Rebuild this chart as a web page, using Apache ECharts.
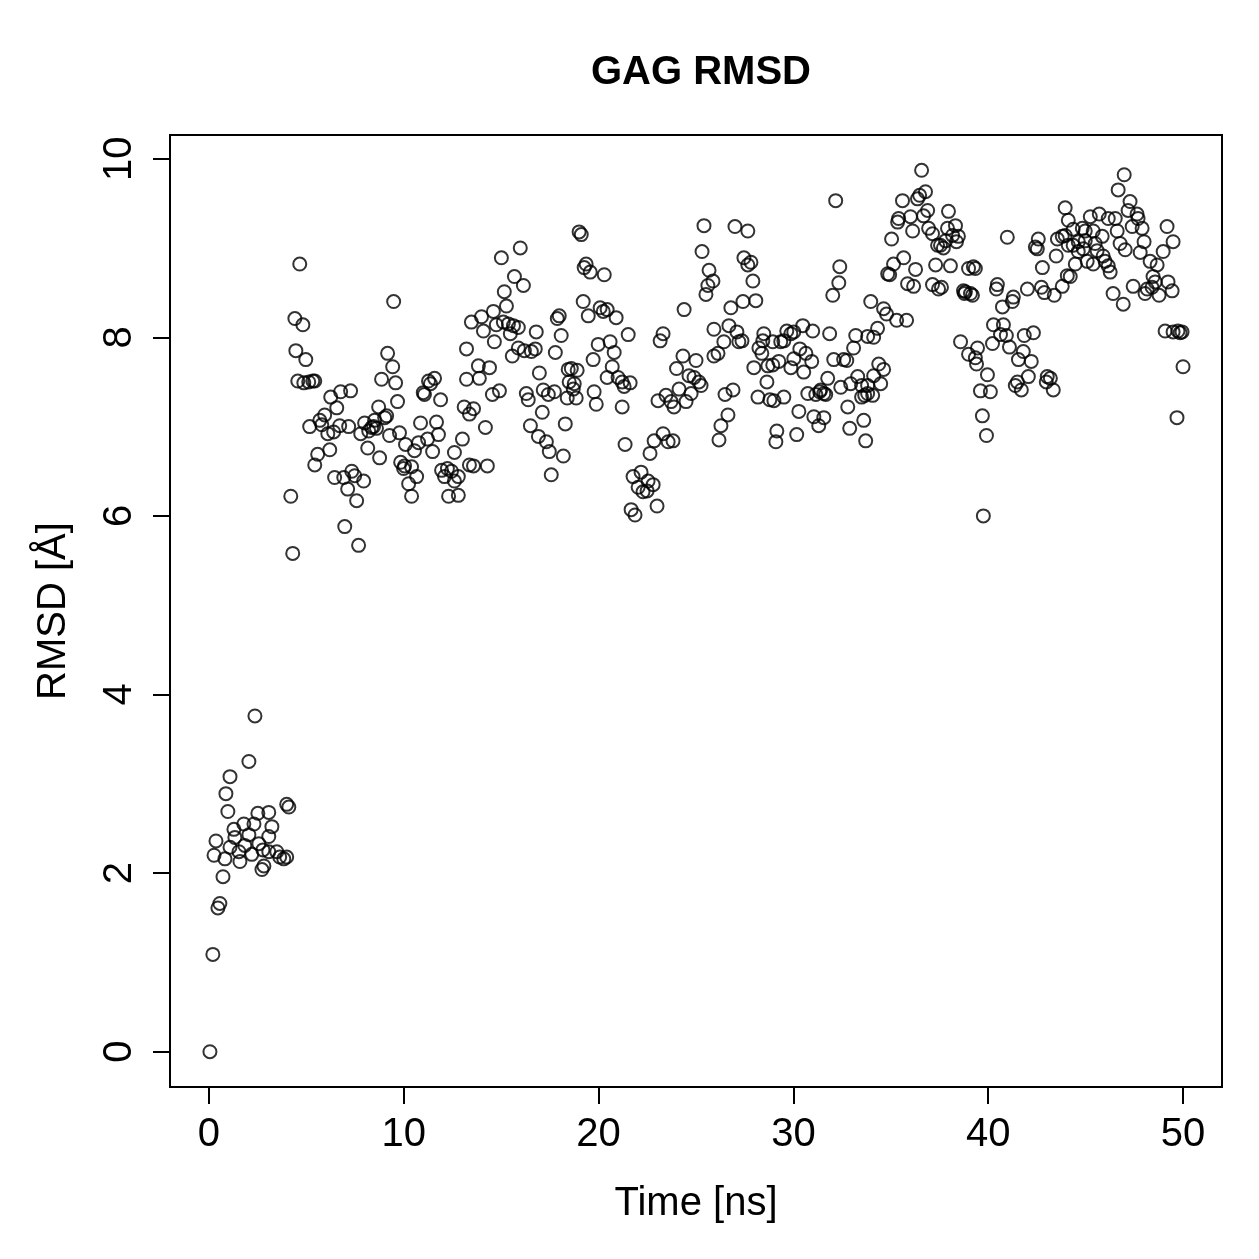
<!DOCTYPE html>
<html>
<head>
<meta charset="utf-8">
<title>GAG RMSD</title>
<script src="https://cdn.jsdelivr.net/npm/echarts@6/dist/echarts.min.js"></script>
<style>
  html, body { margin: 0; padding: 0; background: #fff; }
  #chart { width: 1259px; height: 1259px; }
</style>
</head>
<body>
<div id="chart"></div>
<script>
  // time [ns] and RMSD [Å]
  const timeNs = [
    0.05, 0.2, 0.26, 0.36, 0.46, 0.56, 0.72, 0.82, 0.87, 0.97,
    1.08, 1.08, 1.28, 1.33, 1.54, 1.59, 1.79, 1.84, 2.05, 2.05,
    2.2, 2.31, 2.36, 2.51, 2.56, 2.77, 2.72, 2.82, 3.07, 3.07,
    3.07, 3.23, 3.48, 3.63, 3.84, 3.99, 3.99, 4.1,
    4.2, 4.3, 4.41, 4.46, 4.56, 4.66, 4.82, 4.87, 4.97, 5.12,
    5.17, 5.33, 5.43, 5.43, 5.58, 5.69, 5.79, 5.94, 6.1, 6.2,
    6.25, 6.4, 6.45, 6.56, 6.71, 6.76, 6.92, 6.97, 7.12, 7.17,
    7.27, 7.33, 7.48, 7.58, 7.68, 7.79, 7.94, 7.99, 8.15, 8.2,
    8.35, 8.45, 8.5, 8.6, 8.71, 8.76, 8.86, 9.02, 9.12, 9.17,
    9.27, 9.43, 9.48, 9.58, 9.68, 9.78, 9.84, 9.99, 10.04, 10.09,
    10.25, 10.4, 10.4, 10.55, 10.66, 10.76, 10.86, 11.0, 11.06, 11.22,
    11.27, 11.37, 11.48, 11.58, 11.68, 11.78, 11.89, 11.94, 12.09, 12.24,
    12.3, 12.45, 12.6, 12.6, 12.8, 12.8, 13.01, 13.1, 13.22, 13.22,
    13.37, 13.37, 13.47, 13.58, 13.58, 13.83, 13.88, 13.99, 14.09, 14.19,
    14.29, 14.4, 14.55, 14.6, 14.65, 14.75, 14.91, 15.01, 15.11, 15.16,
    15.27, 15.37, 15.47, 15.57, 15.63, 15.68, 15.88, 15.88, 15.98, 16.14,
    16.19, 16.29, 16.39, 16.5, 16.55, 16.75, 16.8, 16.91, 16.96, 17.11,
    17.16, 17.32, 17.42, 17.47, 17.57, 17.73, 17.78, 17.88, 17.98, 18.08,
    18.19, 18.29, 18.39, 18.44, 18.49, 18.6, 18.7, 18.75, 18.85, 18.9,
    19.0, 19.11, 19.21, 19.26, 19.36, 19.47, 19.57, 19.72, 19.77, 19.88,
    19.98, 20.08, 20.24, 20.29, 20.44, 20.44, 20.59, 20.7, 20.8, 20.9,
    21.0, 21.21, 21.21, 21.31, 21.36, 21.52, 21.62, 21.67, 21.77, 21.87,
    22.03, 22.18, 22.28, 22.49, 22.54, 22.64, 22.8, 22.85, 23.0, 23.05,
    23.16, 23.31, 23.31, 23.46, 23.57, 23.72, 23.82, 23.87, 24.0, 24.13,
    24.33, 24.39, 24.49, 24.64, 24.75, 24.9, 25.0, 25.15, 25.26, 25.31,
    25.41, 25.51, 25.61, 25.67, 25.87, 25.92, 25.92, 26.13, 26.18, 26.28,
    26.43, 26.49, 26.64, 26.69, 26.79, 26.9, 27.0, 27.1, 27.2, 27.36,
    27.41, 27.46, 27.66, 27.66, 27.82, 27.92, 27.97, 28.07, 28.18, 28.23,
    28.38, 28.43, 28.48, 28.64, 28.69, 28.79, 28.94, 28.94, 29.0, 29.1,
    29.15, 29.25, 29.35, 29.51, 29.51, 29.66, 29.87, 29.87, 30.02, 30.02,
    30.17, 30.28, 30.33, 30.48, 30.53, 30.64, 30.74, 30.94, 30.99, 31.05,
    31.15, 31.3, 31.35, 31.4, 31.56, 31.56, 31.66, 31.76, 31.86, 32.02,
    32.07, 32.17, 32.33, 32.38, 32.43, 32.58, 32.74, 32.79, 32.89, 32.94,
    33.09, 33.2, 33.3, 33.5, 33.5, 33.61, 33.66, 33.71, 33.81, 33.81,
    33.81, 33.97, 34.07, 34.12, 34.12, 34.32, 34.38, 34.48, 34.63, 34.63,
    34.78, 34.84, 34.94, 35.04, 35.14, 35.3, 35.35, 35.4, 35.6, 35.66,
    35.81, 35.86, 36.01, 36.12, 36.17, 36.27, 36.37, 36.48, 36.58, 36.68,
    36.78, 36.89, 36.94, 37.14, 37.14, 37.3, 37.4, 37.45, 37.55, 37.6,
    37.7, 37.81, 37.91, 37.96, 38.06, 38.17, 38.32, 38.37, 38.47, 38.58,
    38.73, 38.78, 38.83, 38.99, 38.99, 39.09, 39.19, 39.24, 39.34, 39.34,
    39.4, 39.45, 39.6, 39.7, 39.75, 39.91, 39.96, 40.11, 40.22, 40.27,
    40.42, 40.47, 40.63, 40.73, 40.78, 40.93, 40.98, 41.09, 41.24, 41.29,
    41.39, 41.5, 41.55, 41.7, 41.8, 41.85, 42.01, 42.06, 42.21, 42.32,
    42.42, 42.52, 42.57, 42.73, 42.78, 42.88, 42.98, 43.03, 43.19, 43.34,
    43.39, 43.49, 43.55, 43.8, 43.8, 43.95, 43.95, 44.06, 44.11, 44.11,
    44.21, 44.36, 44.36, 44.47, 44.62, 44.62, 44.83, 44.88, 44.98, 44.98,
    45.08, 45.24, 45.39, 45.39, 45.49, 45.59, 45.7, 45.85, 45.9, 46.0,
    46.16, 46.16, 46.26, 46.41, 46.52, 46.62, 46.67, 46.77, 46.93, 46.98,
    47.03, 47.18, 47.28, 47.39, 47.44, 47.64, 47.69, 47.8, 47.9, 48.0,
    48.05, 48.16, 48.31, 48.41, 48.46, 48.57, 48.67, 48.77, 48.98, 49.08,
    49.18, 49.23, 49.44, 49.49, 49.49, 49.69, 49.74, 49.85, 49.95, 50.0
  ];

  const rmsd = [
    0.00, 1.09, 2.20, 2.36, 1.61, 1.66, 1.96, 2.16, 2.89, 2.69,
    3.08, 2.29, 2.49, 2.40, 2.24, 2.13, 2.55, 2.31, 3.25, 2.43,
    2.21, 2.55, 3.76, 2.67, 2.33, 2.26, 2.04, 2.08, 2.24, 2.41,
    2.68, 2.52, 2.24, 2.18, 2.16, 2.18, 2.77, 2.74,
    6.22, 5.58, 8.21, 7.85, 7.51, 8.82, 8.14, 7.49, 7.75, 7.50,
    7.00, 7.51, 7.51, 6.57, 6.69, 7.07, 7.02, 7.13, 6.92, 6.74,
    7.33, 6.94, 6.43, 7.21, 7.01, 7.39, 6.43, 5.88, 6.30, 7.00,
    7.40, 6.50, 6.45, 6.17, 5.67, 6.92, 6.39, 7.04, 6.76, 6.95,
    6.99, 7.00, 7.07, 6.98, 7.22, 6.65, 7.53, 7.10, 7.12, 7.82,
    6.90, 7.67, 8.40, 7.49, 7.28, 6.93, 6.60, 6.53, 6.56, 6.80,
    6.36, 6.55, 6.22, 6.73, 6.44, 6.82, 7.04, 7.38, 7.36, 6.86,
    7.51, 7.48, 6.72, 7.54, 7.05, 6.91, 7.30, 6.51, 6.44, 6.53,
    6.22, 6.50, 6.39, 6.71, 6.44, 6.23, 6.86, 7.22, 7.87, 7.53,
    7.14, 6.57, 8.17, 7.20, 6.56, 7.68, 7.54, 8.23, 8.07, 6.99,
    6.56, 7.66, 7.36, 8.29, 7.95, 8.14, 7.40, 8.89, 8.17, 8.51,
    8.35, 8.15, 8.04, 7.79, 8.13, 8.68, 8.11, 7.88, 9.00, 8.58,
    7.85, 7.37, 7.30, 7.01, 7.84, 7.87, 8.06, 6.89, 7.60, 7.16,
    7.41, 6.83, 7.36, 6.72, 6.46, 7.39, 7.83, 8.21, 8.24, 8.02,
    6.67, 7.03, 7.32, 7.64, 7.50, 7.65, 7.42, 7.48, 7.32, 7.63,
    9.18, 9.15, 8.40, 8.78, 8.82, 8.24, 8.73, 7.75, 7.39, 7.25,
    7.92, 8.33, 8.29, 8.70, 8.31, 7.55, 7.95, 7.67, 7.83, 8.22,
    7.55, 7.50, 7.22, 7.45, 6.80, 8.03, 7.49, 6.07, 6.44, 6.01,
    6.32, 6.49, 6.27, 6.28, 6.39, 6.70, 6.35, 6.84, 6.11, 7.29,
    7.96, 8.04, 6.92, 7.35, 6.83, 7.28, 6.84, 7.22, 7.65, 7.42,
    7.79, 8.31, 7.28, 7.57, 7.37, 7.55, 7.74, 7.50, 7.46, 8.96,
    9.25, 8.48, 8.58, 8.75, 8.63, 8.09, 7.79, 7.82, 6.85, 7.01,
    7.95, 7.36, 7.13, 8.13, 8.33, 7.41, 9.24, 8.06, 7.95, 7.96,
    8.40, 8.89, 9.19, 8.81, 8.84, 8.63, 7.66, 8.41, 7.33, 7.88,
    7.82, 7.96, 8.04, 7.50, 7.68, 7.30, 7.95, 7.69, 7.29, 6.83,
    6.95, 7.73, 7.95, 7.96, 7.33, 8.07, 8.04, 7.66, 8.06, 7.76,
    6.91, 7.17, 7.87, 8.13, 7.61, 7.82, 7.37, 7.73, 8.07, 7.11,
    7.36, 7.01, 7.39, 7.41, 7.37, 7.10, 7.36, 7.54, 8.04, 8.47,
    7.75, 9.53, 8.61, 8.79, 7.44, 7.75, 7.74, 7.22, 6.98, 7.48,
    7.88, 8.02, 7.56, 7.46, 7.33, 7.07, 7.35, 6.84, 8.01, 7.46,
    7.37, 8.40, 7.35, 8.00, 7.57, 8.10, 7.70, 7.48, 7.64, 8.32,
    8.26, 8.71, 8.70, 9.10, 8.82, 8.19, 9.29, 9.33, 9.53, 8.89,
    8.19, 8.60, 9.35, 9.19, 8.57, 8.76, 9.55, 9.59, 9.87, 9.36,
    9.63, 9.42, 9.22, 9.16, 8.59, 8.81, 9.03, 8.54, 9.03, 8.56,
    9.00, 9.08, 9.22, 9.41, 8.80, 9.14, 9.25, 9.07, 9.13, 7.95,
    8.52, 8.49, 8.51, 8.77, 7.81, 8.49, 8.47, 8.79, 8.77, 7.77,
    7.70, 7.88, 7.40, 7.12, 6.00, 6.90, 7.58, 7.39, 7.93, 8.14,
    8.54, 8.59, 8.03, 8.34, 8.14, 8.02, 9.12, 7.89, 8.40, 8.45,
    7.46, 7.50, 7.75, 7.41, 7.84, 8.02, 8.54, 7.56, 7.73, 8.05,
    9.01, 8.99, 9.10, 8.56, 8.78, 8.50, 7.50, 7.56, 7.54, 7.41,
    8.47, 8.91, 9.10, 9.13, 8.57, 9.14, 9.45, 8.69, 9.31, 9.03,
    8.68, 9.21, 9.03, 8.82, 9.07, 8.96, 9.22, 8.99, 9.19, 9.08,
    8.85, 9.35, 9.19, 8.82, 9.05, 8.97, 9.38, 9.13, 8.91, 8.85,
    9.33, 8.80, 8.73, 8.49, 9.33, 9.19, 9.65, 9.05, 8.37, 9.82,
    8.98, 9.42, 9.52, 9.24, 8.57, 9.38, 9.33, 8.95, 9.22, 9.07,
    8.49, 8.54, 8.85, 8.56, 8.68, 8.62, 8.81, 8.47, 8.96, 8.07,
    9.24, 8.62, 8.52, 9.07, 8.06, 7.10, 8.07, 8.05, 8.06, 7.67
  ];

  const xTicks = [0, 10, 20, 30, 40, 50];
  const yTicks = [0, 2, 4, 6, 8, 10];

  const font = 'Liberation Sans, Arial, Helvetica, sans-serif';
  const points = timeNs.map(function (t, i) { return [t, rmsd[i]]; });

  const chart = echarts.init(document.getElementById('chart'), null, { renderer: 'canvas' });

  const option = {
    animation: false,
    backgroundColor: '#fff',
    title: {
      text: 'GAG RMSD',
      left: 696,
      top: 48,
      textAlign: 'center',
      textStyle: { fontFamily: font, fontSize: 40, fontWeight: 'bold', color: '#000' }
    },
    grid: {
      left: 170,
      right: 37,
      top: 135,
      bottom: 172,
      show: true,
      borderColor: '#000',
      borderWidth: 2,
      backgroundColor: 'transparent'
    },
    xAxis: {
      type: 'value',
      min: -2,
      max: 52,
      name: 'Time [ns]',
      nameLocation: 'middle',
      nameGap: 97,
      nameTextStyle: { fontFamily: font, fontSize: 40, color: '#000' },
      axisLine: { show: false, onZero: false },
      splitLine: { show: false },
      axisTick: {
        show: true, inside: false, length: 17, customValues: xTicks,
        lineStyle: { color: '#000', width: 2 }
      },
      axisLabel: {
        customValues: xTicks, margin: 28,
        fontFamily: font, fontSize: 40, color: '#000'
      }
    },
    yAxis: {
      type: 'value',
      min: -0.395,
      max: 10.265,
      name: 'RMSD [Å]',
      nameLocation: 'middle',
      nameGap: 96,
      nameTextStyle: { fontFamily: font, fontSize: 40, color: '#000' },
      axisLine: { show: false, onZero: false },
      splitLine: { show: false },
      axisTick: {
        show: true, inside: false, length: 17, customValues: yTicks,
        lineStyle: { color: '#000', width: 2 }
      },
      axisLabel: {
        customValues: yTicks, margin: 30, rotate: 90,
        fontFamily: font, fontSize: 40, color: '#000'
      }
    },
    series: [{
      type: 'scatter',
      data: points,
      symbol: 'circle',
      symbolSize: 13,
      itemStyle: { color: 'rgba(0,0,0,0)', borderColor: '#000', borderWidth: 2 },
      emphasis: { disabled: true }
    }]
  };

  chart.setOption(option);

  window.addEventListener('resize', function () {
    chart.resize();
  });
</script>
</body>
</html>
